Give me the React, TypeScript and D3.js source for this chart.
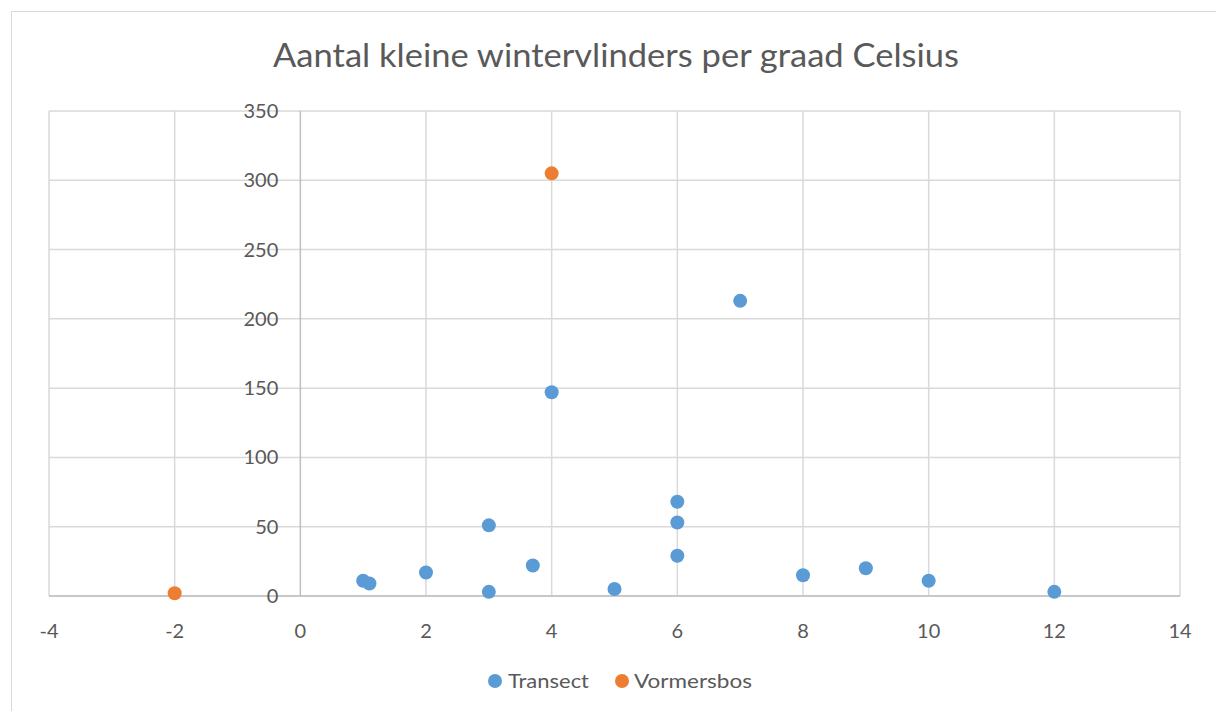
import * as d3 from "d3";

const transectX = [1, 1.1, 2, 3, 3, 3.7, 4, 5, 6, 6, 6, 7, 8, 9, 10, 12];
const transectY = [11, 9, 17, 51, 3, 22, 147, 5, 68, 53, 29, 213, 15, 20, 11, 3];
const vormersX = [-2, 4];
const vormersY = [2, 305];
const xTicks = [-4, -2, 0, 2, 4, 6, 8, 10, 12, 14];
const yTicks = [0, 50, 100, 150, 200, 250, 300, 350];

const W = 1216,
  H = 711;
const m = { left: 49, right: 1180, top: 111, bottom: 596 };
const grey = "#595959";
const font = "Lato, 'Open Sans', sans-serif";

export default function App() {
  const x = d3.scaleLinear().domain([-4, 14]).range([m.left, m.right]);
  const y = d3.scaleLinear().domain([0, 350]).range([m.bottom, m.top]);

  const transect = transectX.map((v, i) => ({ x: v, y: transectY[i] }));
  const vormers = vormersX.map((v, i) => ({ x: v, y: vormersY[i] }));

  return (
    <svg
      width={W}
      height={H}
      style={{ position: "absolute", left: 0, top: 0, background: "#fff" }}
    >
      {/* chart frame */}
      <rect x={11.5} y={11.5} width={1230} height={720} fill="#fff" stroke="#d9d9d9" />

      <text
        x={273}
        y={67}
        fontFamily={font}
        fontSize={32}
        fill={grey}
        textLength={686}
        lengthAdjust="spacingAndGlyphs"
      >
        Aantal kleine wintervlinders per graad Celsius
      </text>

      {/* grid */}
      {yTicks.map((t) => (
        <line key={"gy" + t} x1={m.left} x2={m.right} y1={y(t)} y2={y(t)} stroke="#d9d9d9" strokeWidth={1.5} />
      ))}
      {xTicks.map((t) => (
        <line
          key={"gx" + t}
          x1={x(t)}
          x2={x(t)}
          y1={m.top}
          y2={m.bottom}
          stroke={t === 0 ? "#bfbfbf" : "#d9d9d9"}
          strokeWidth={1.5}
        />
      ))}
      <line x1={m.left} x2={m.right} y1={y(0)} y2={y(0)} stroke="#bfbfbf" strokeWidth={1.5} />

      {/* tick labels */}
      {yTicks.map((t) => (
        <text
          key={"ty" + t}
          x={x(0) - 22}
          y={y(t)}
          dy="0.35em"
          textAnchor="end"
          fontFamily={font}
          fontSize={20}
          fill={grey}
        >
          {t}
        </text>
      ))}
      {xTicks.map((t) => (
        <text
          key={"tx" + t}
          x={x(t)}
          y={638}
          textAnchor="middle"
          fontFamily={font}
          fontSize={20}
          fill={grey}
        >
          {t}
        </text>
      ))}

      {/* points */}
      {transect.map((d, i) => (
        <circle key={"t" + i} cx={x(d.x)} cy={y(d.y)} r={7} fill="#5b9bd5" />
      ))}
      {vormers.map((d, i) => (
        <circle key={"v" + i} cx={x(d.x)} cy={y(d.y)} r={7} fill="#ed7d31" />
      ))}

      {/* legend */}
      <circle cx={495} cy={681} r={7} fill="#5b9bd5" />
      <text x={508} y={688} fontFamily={font} fontSize={19} fill={grey} textLength={81} lengthAdjust="spacingAndGlyphs">
        Transect
      </text>
      <circle cx={622} cy={681} r={7} fill="#ed7d31" />
      <text x={634} y={688} fontFamily={font} fontSize={19} fill={grey} textLength={118} lengthAdjust="spacingAndGlyphs">
        Vormersbos
      </text>
    </svg>
  );
}
